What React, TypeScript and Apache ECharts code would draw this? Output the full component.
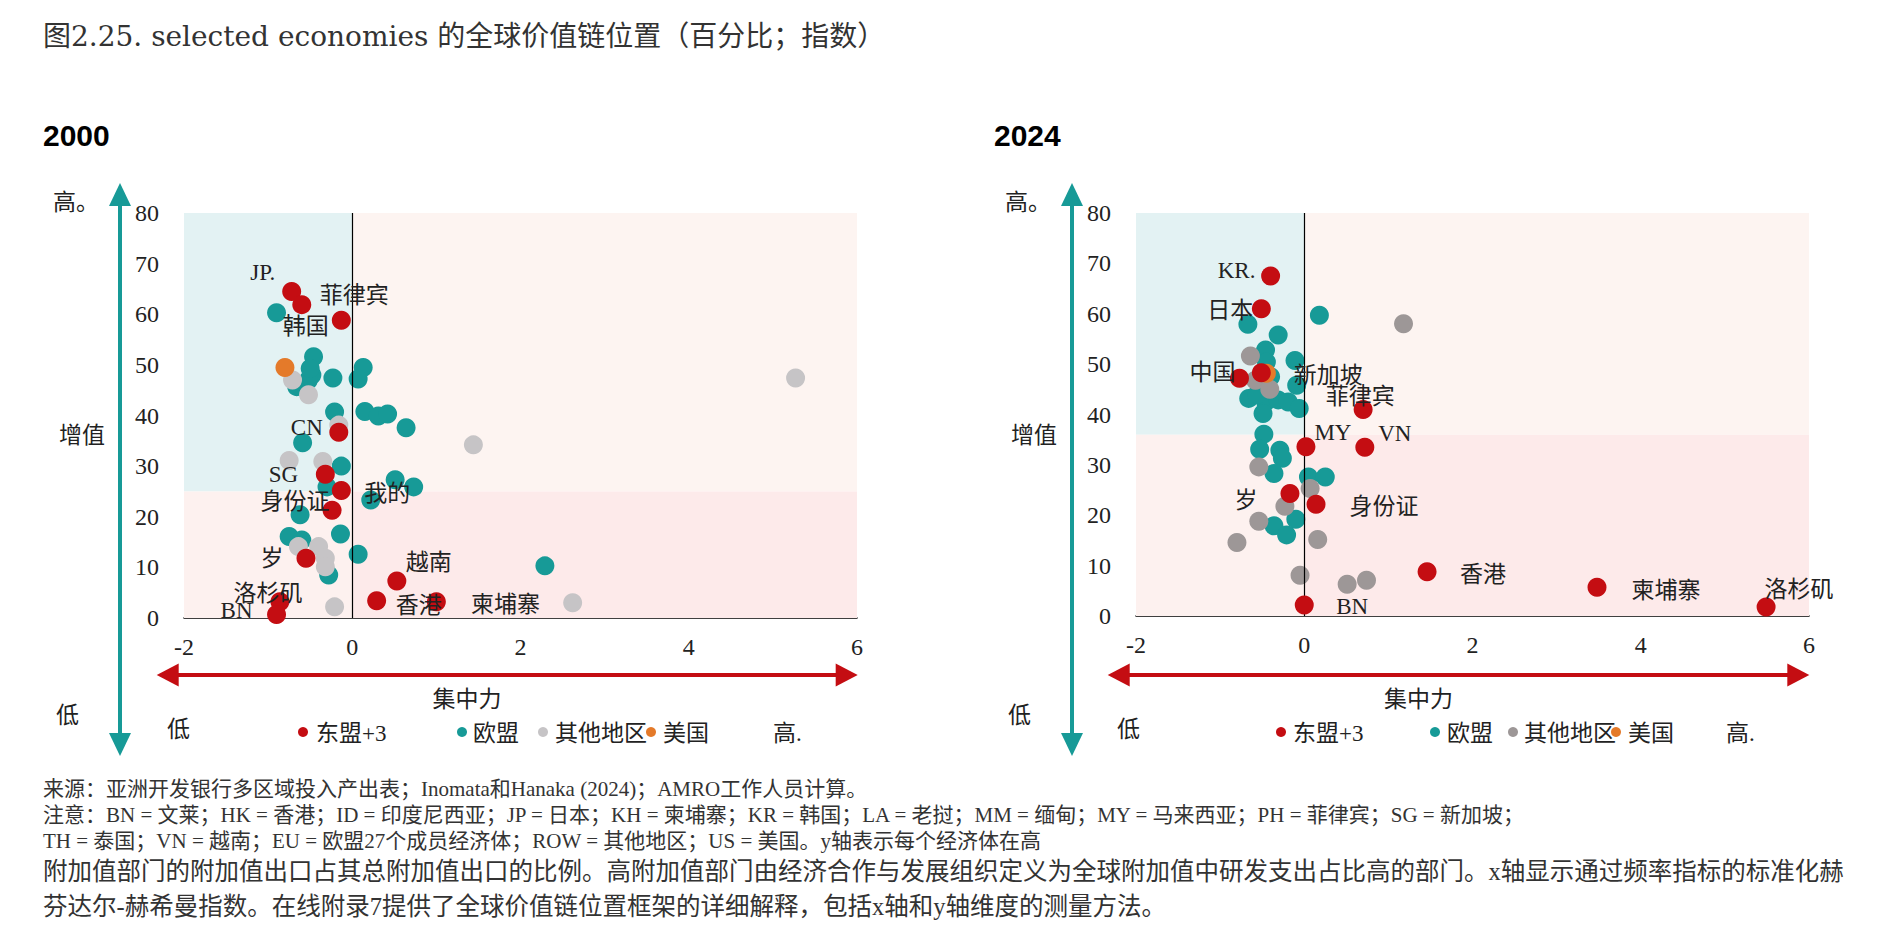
import React, { useEffect, useRef } from "react";
import * as echarts from "echarts";

const SERIF = "'Liberation Serif', 'Noto Sans CJK SC', serif";
const TITLE_FONT = "'DejaVu Serif', 'Noto Sans CJK SC', serif";
const SANS = "'Liberation Sans', 'Noto Sans', sans-serif";

// ---------- data ----------
const TITLE = "图2.25. selected economies 的全球价值链位置（百分比；指数）";
const PANEL_TITLES = ["2000", "2024"];
const X_TICKS = { min: -2, max: 6, interval: 2 };
const Y_TICKS = { min: 0, max: 80, interval: 10 };
const Y_SPLIT = [25, 36]; // horizontal quadrant split per panel
const LEGEND_NAMES = ["东盟+3", "欧盟", "其他地区", "美国"];

// 2000
const asean2000: [number, number, string][] = [
  [-0.72, 64.5, "JP."],
  [-0.6, 61.9, "韩国"],
  [-0.13, 58.8, "菲律宾"],
  [-0.16, 36.7, "CN"],
  [-0.32, 28.4, "SG"],
  [-0.13, 25.2, "我的"],
  [-0.24, 21.3, "身份证"],
  [-0.55, 11.8, "岁"],
  [0.53, 7.3, "越南"],
  [0.29, 3.4, "香港"],
  [1.0, 3.2, "柬埔寨"],
  [-0.86, 3.2, "洛杉矶"],
  [-0.9, 0.7, "BN"],
];
const eu2000: [number, number][] = [
  [-0.9, 60.3], [-0.46, 51.6], [-0.66, 45.7], [-0.48, 48.0], [-0.52, 47.0],
  [-0.5, 49.3], [-0.23, 47.4], [0.13, 49.5], [0.07, 47.2], [-0.21, 40.7],
  [0.15, 40.8], [0.31, 39.9], [0.42, 40.3], [0.64, 37.6], [-0.59, 34.6],
  [-0.13, 30.0], [-0.3, 25.9], [0.51, 27.3], [0.73, 25.9], [0.22, 23.3],
  [-0.62, 20.4], [-0.14, 16.6], [-0.75, 16.1], [-0.6, 15.4], [0.07, 12.6],
  [-0.28, 8.5], [2.29, 10.3],
];
const row2000: [number, number][] = [
  [-0.71, 47.0], [-0.52, 44.1], [-0.16, 38.1], [1.44, 34.2], [-0.75, 31.1],
  [-0.35, 30.9], [-0.64, 14.1], [-0.4, 14.1], [-0.32, 11.8], [-0.32, 10.1],
  [-0.21, 2.2], [5.27, 47.4], [2.62, 3.0],
];
const us2000: [number, number][] = [[-0.8, 49.5]];

// 2024
const asean2024: [number, number, string][] = [
  [-0.4, 67.5, "KR."],
  [-0.51, 61.0, "日本"],
  [-0.77, 47.2, "中国"],
  [-0.51, 48.3, "新加坡"],
  [0.7, 41.0, "菲律宾"],
  [0.02, 33.6, "MY"],
  [0.72, 33.5, "VN"],
  [-0.17, 24.3, "岁"],
  [0.14, 22.2, "身份证"],
  [0.0, 2.2, "BN"],
  [1.46, 8.8, "香港"],
  [3.48, 5.7, "柬埔寨"],
  [5.49, 1.8, "洛杉矶"],
];
const eu2024: [number, number][] = [
  [0.18, 59.7], [-0.67, 57.9], [-0.31, 55.8], [-0.46, 52.8], [-0.11, 50.7],
  [-0.45, 50.4], [-0.09, 45.8], [-0.66, 43.2], [-0.46, 42.5], [-0.31, 42.9],
  [-0.19, 42.5], [-0.06, 41.2], [-0.49, 40.2], [-0.48, 36.1], [-0.53, 33.1],
  [-0.29, 32.9], [-0.26, 31.3], [-0.36, 28.3], [0.05, 27.6], [0.25, 27.6],
  [-0.1, 19.2], [-0.36, 17.9], [-0.21, 16.1], [-0.56, 44.0], [-0.4, 47.5],
];
const row2024: [number, number][] = [
  [-0.34, 80.4], [1.18, 58.0], [-0.64, 51.6], [-0.58, 46.8], [-0.41, 45.0],
  [-0.54, 29.6], [0.07, 25.3], [-0.23, 21.8], [-0.54, 18.8], [-0.8, 14.6],
  [0.16, 15.2], [-0.05, 8.1], [0.51, 6.3], [0.74, 7.1],
];
const us2024: [number, number][] = [[-0.45, 48.2]];

const NOTES_SMALL = [
  "来源：亚洲开发银行多区域投入产出表；Inomata和Hanaka (2024)；AMRO工作人员计算。",
  "注意：BN = 文莱；HK = 香港；ID = 印度尼西亚；JP = 日本；KH = 柬埔寨；KR = 韩国；LA = 老挝；MM = 缅甸；MY = 马来西亚；PH = 菲律宾；SG = 新加坡；",
  "TH = 泰国；VN = 越南；EU = 欧盟27个成员经济体；ROW = 其他地区；US = 美国。y轴表示每个经济体在高",
];
const NOTES_LARGE = [
  "附加值部门的附加值出口占其总附加值出口的比例。高附加值部门由经济合作与发展组织定义为全球附加值中研发支出占比高的部门。x轴显示通过频率指标的标准化赫",
  "芬达尔-赫希曼指数。在线附录7提供了全球价值链位置框架的详细解释，包括x轴和y轴维度的测量方法。",
];

// ---------- layout / style ----------
const LABEL_OFFSETS: Record<string, [number, number]>[] = [
  {
    "JP.": [-29, -19], "韩国": [4, 22], "菲律宾": [13, -25], CN: [-32, -5],
    SG: [-42, 0], "我的": [46, 3], "身份证": [-37, -9], "岁": [-34, 0],
    "越南": [32, -19], "香港": [42, 5], "柬埔寨": [69, 3], "洛杉矶": [-12, -8],
    BN: [-40, -4],
  },
  {
    "KR.": [-34, -5], "日本": [-31, 2], "中国": [-27, -6], "新加坡": [67, 3],
    "菲律宾": [-3, -13], MY: [27, -14], VN: [30, -14], "岁": [-44, 7],
    "身份证": [68, 2], BN: [48, 2], "香港": [56, 3], "柬埔寨": [69, 3],
    "洛杉矶": [33, -17],
  },
];

const C_RED = "#c40d12";
const C_TEAL = "#179a97";
const C_GRAY = ["#c6c4c6", "#9d9797"];
const C_ORANGE = "#e47a2a";
const Q_COLORS = { tl: "#e3f2f3", tr: "#fdf4f1", bl: "#fdf1ef", br: "#fdeaea" };

const GRIDS = [
  { left: 184, top: 213, width: 673, height: 405 },
  { left: 1136, top: 213, width: 673, height: 403 },
];

export default function App() {
  const ref = useRef<HTMLDivElement>(null);

  useEffect(() => {
    if (!ref.current) return;
    const chart = echarts.init(ref.current, undefined, { renderer: "svg" });

    const panels = [
      { asean: asean2000, eu: eu2000, row: row2000, us: us2000 },
      { asean: asean2024, eu: eu2024, row: row2024, us: us2024 },
    ];

    const series: any[] = [];
    panels.forEach((p, i) => {
      const ys = Y_SPLIT[i];
      series.push({
        type: "scatter",
        xAxisIndex: i,
        yAxisIndex: i,
        data: [],
        silent: true,
        z: 1,
        markArea: {
          silent: true,
          data: [
            [{ coord: [X_TICKS.min, ys], itemStyle: { color: Q_COLORS.tl } }, { coord: [0, Y_TICKS.max] }],
            [{ coord: [0, ys], itemStyle: { color: Q_COLORS.tr } }, { coord: [X_TICKS.max, Y_TICKS.max] }],
            [{ coord: [X_TICKS.min, 0], itemStyle: { color: Q_COLORS.bl } }, { coord: [0, ys] }],
            [{ coord: [0, 0], itemStyle: { color: Q_COLORS.br } }, { coord: [X_TICKS.max, ys] }],
          ],
        },
        markLine: {
          silent: true,
          symbol: ["none", "none"],
          label: { show: false },
          lineStyle: { color: "#000", width: 1.2, type: "solid" },
          data: [{ xAxis: 0 }],
        },
      });
      const common = {
        type: "scatter",
        xAxisIndex: i,
        yAxisIndex: i,
        symbolSize: 19,
        emphasis: { disabled: true },
      };
      series.push({ ...common, name: "欧盟", z: 2, itemStyle: { color: C_TEAL, opacity: 1 }, data: p.eu });
      series.push({ ...common, name: "其他地区", z: 3, itemStyle: { color: C_GRAY[i], opacity: 1 }, data: p.row });
      series.push({ ...common, name: "美国", z: 4, itemStyle: { color: C_ORANGE, opacity: 1 }, data: p.us });
      series.push({
        ...common,
        name: "东盟+3",
        z: 5,
        itemStyle: { color: C_RED, opacity: 1 },
        label: {
          show: true,
          position: "inside",
          formatter: "{b}",
          color: "#222",
          fontSize: 23,
          fontFamily: SERIF,
        },
        data: p.asean.map(([x, y, n]) => ({
          value: [x, y],
          name: n,
          label: { offset: LABEL_OFFSETS[i][n] || [0, 0] },
        })),
      });
    });

    const axisLabel = { color: "#222", fontSize: 24, fontFamily: SERIF };
    const xAxes = GRIDS.map((_, i) => ({
      type: "value",
      gridIndex: i,
      min: X_TICKS.min,
      max: X_TICKS.max,
      interval: X_TICKS.interval,
      axisLine: { show: true, onZero: false, lineStyle: { color: "#000", width: 1.5 } },
      axisTick: { show: false },
      splitLine: { show: false },
      axisLabel: { ...axisLabel, margin: 17 },
    }));
    const yAxes = GRIDS.map((_, i) => ({
      type: "value",
      gridIndex: i,
      min: Y_TICKS.min,
      max: Y_TICKS.max,
      interval: Y_TICKS.interval,
      axisLine: { show: false, onZero: false },
      axisTick: { show: false },
      splitLine: { show: false },
      axisLabel: { ...axisLabel, margin: 25 },
    }));

    const text = (x: number, y: number, t: string, size: number, extra: any = {}) => ({
      type: "text",
      x,
      y,
      silent: true,
      style: {
        text: t,
        fill: "#222",
        font: `${size}px ${SERIF}`,
        verticalAlign: "middle",
        align: "left",
        ...extra,
      },
    });

    const graphics: any[] = [];
    graphics.push(text(43, 36, TITLE, 28, { fill: "#333", font: `28px ${TITLE_FONT}` }));

    const panelGeo = [
      {
        title: 43, vArrowX: 120, side: 53, hA: [156.7, 857.7], center: 467,
        lo: 167, legend: [303, 462, 543, 651], legendText: [316, 473, 555, 663], hi: 773,
      },
      {
        title: 994, vArrowX: 1072, side: 1005, hA: [1107.7, 1809.3], center: 1418.5,
        lo: 1117, legend: [1281, 1435, 1513, 1616], legendText: [1293, 1447, 1524, 1628], hi: 1726,
      },
    ];
    const legendColors = (i: number) => [C_RED, C_TEAL, C_GRAY[i], C_ORANGE];

    panelGeo.forEach((g, i) => {
      graphics.push({
        type: "text", x: g.title, y: 135, silent: true,
        style: { text: PANEL_TITLES[i], fill: "#000", font: `bold 30px ${SANS}`, verticalAlign: "middle" },
      });
      // side labels
      graphics.push(text(g.side, 202, "高。", 23));
      graphics.push(text(g.side + 6, 435, "增值", 23));
      graphics.push(text(g.side + 3, 715, "低", 23));
      // vertical teal double arrow
      const vx = g.vArrowX;
      graphics.push({
        type: "line", silent: true,
        shape: { x1: vx, y1: 200, x2: vx, y2: 740 },
        style: { stroke: C_TEAL, lineWidth: 4 },
      });
      graphics.push({
        type: "polygon", silent: true,
        shape: { points: [[vx, 183], [vx - 11, 206], [vx + 11, 206]] },
        style: { fill: C_TEAL },
      });
      graphics.push({
        type: "polygon", silent: true,
        shape: { points: [[vx, 756], [vx - 11, 733], [vx + 11, 733]] },
        style: { fill: C_TEAL },
      });
      // horizontal red double arrow
      const [hx1, hx2] = g.hA;
      const hy = 675;
      graphics.push({
        type: "line", silent: true,
        shape: { x1: hx1 + 15, y1: hy, x2: hx2 - 15, y2: hy },
        style: { stroke: C_RED, lineWidth: 4 },
      });
      graphics.push({
        type: "polygon", silent: true,
        shape: { points: [[hx1, hy], [hx1 + 22, hy - 11.5], [hx1 + 22, hy + 11.5]] },
        style: { fill: C_RED },
      });
      graphics.push({
        type: "polygon", silent: true,
        shape: { points: [[hx2, hy], [hx2 - 22, hy - 11.5], [hx2 - 22, hy + 11.5]] },
        style: { fill: C_RED },
      });
      graphics.push(text(g.center, 699, "集中力", 23, { align: "center" }));
      // legend row
      graphics.push(text(g.lo, 729, "低", 23));
      const cols = legendColors(i);
      LEGEND_NAMES.forEach((n, k) => {
        graphics.push({
          type: "circle", silent: true,
          shape: { cx: g.legend[k], cy: 732, r: 5 },
          style: { fill: cols[k] },
        });
        graphics.push(text(g.legendText[k], 733, n, 23));
      });
      graphics.push(text(g.hi, 733, "高.", 23));
    });

    NOTES_SMALL.forEach((t, k) => graphics.push(text(43, 789 + k * 26, t, 21, { fill: "#333" })));
    NOTES_LARGE.forEach((t, k) => graphics.push(text(43, 871 + k * 35, t, 24.5, { fill: "#333" })));

    chart.setOption({
      animation: false,
      backgroundColor: "#fff",
      grid: GRIDS.map((g) => ({ ...g, containLabel: false })),
      xAxis: xAxes,
      yAxis: yAxes,
      series,
      graphic: graphics,
    });

    return () => chart.dispose();
  }, []);

  return (
    <div
      ref={ref}
      style={{ position: "fixed", left: 0, top: 0, width: 1877, height: 943, background: "#fff" }}
    />
  );
}
